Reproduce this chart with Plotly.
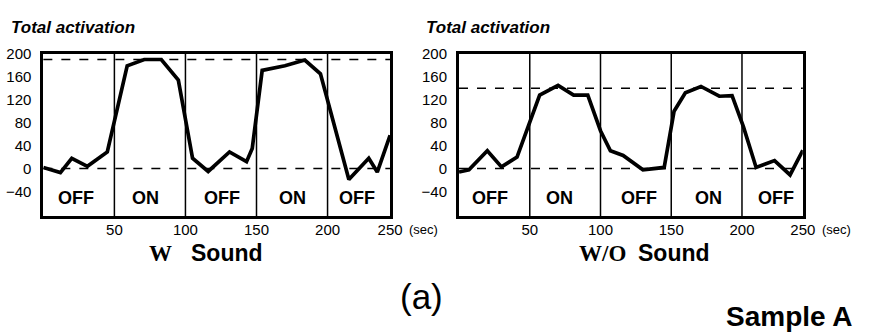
import plotly.graph_objects as go

# ---- data ----
t_w = [0, 12, 20, 31, 45, 59, 71, 83, 95, 105, 116, 131, 143, 147, 154, 170, 184, 195, 215, 229, 235, 244]
v_w = [2, -7, 18, 4, 29, 179, 190, 190, 154, 18, -5, 29, 12, 35, 171, 179, 189, 165, -19, 18, -6, 58]

t_wo = [0, 7, 20, 30, 41, 57, 70, 81, 91, 100, 107, 116, 130, 145, 152, 160, 171, 184, 193, 201, 210, 223, 234, 243]
v_wo = [-6, -2, 31, 3, 20, 128, 145, 128, 128, 66, 31, 23, -2, 2, 100, 132, 143, 126, 127, 73, 2, 14, -11, 32]

ref_w = 190
ref_wo = 140
block_edges = [50, 100, 150, 200]
block_labels = ["OFF", "ON", "OFF", "ON", "OFF"]
block_pos_w = [23, 72, 126, 175, 221]
block_pos_wo = [22, 71, 127, 176, 224]
x_tickvals_w = [50, 100, 150, 200, 244]
x_tickvals_wo = [50, 100, 150, 200, 243]
x_ticktext = ["50", "100", "150", "200", "250"]
y_tickvals = [-40, 0, 40, 80, 120, 160, 200]

W, H = 869, 334
SANS = "Liberation Sans, Arial, sans-serif"
SERIF = "Liberation Serif, Times New Roman, serif"

def px_x(a, b):
    return [a / W, b / W]

def px_y(top, bottom):
    return [(H - bottom) / H, (H - top) / H]

fig = go.Figure()
fig.add_trace(go.Scatter(x=t_w, y=v_w, mode="lines", line=dict(color="black", width=3.7),
                         xaxis="x", yaxis="y", showlegend=False, hoverinfo="skip"))
fig.add_trace(go.Scatter(x=t_wo, y=v_wo, mode="lines", line=dict(color="black", width=3.7),
                         xaxis="x2", yaxis="y2", showlegend=False, hoverinfo="skip"))

ax_common = dict(showgrid=False, zeroline=False, showline=True, mirror=True,
                 linecolor="black", linewidth=3, ticks="", ticklen=0,
                 tickfont=dict(family=SANS, size=15, color="black"))

fig.update_layout(
    width=W, height=H, margin=dict(l=0, r=0, t=0, b=0),
    plot_bgcolor="white", paper_bgcolor="white",
    xaxis=dict(domain=px_x(44, 396), range=[0, 244], tickvals=x_tickvals_w, ticktext=x_ticktext,
               anchor="y", ticklabelstandoff=-2, **ax_common),
    yaxis=dict(domain=px_y(46, 213), range=[-83, 200], tickvals=y_tickvals, anchor="x",
               ticklabelstandoff=6, **ax_common),
    xaxis2=dict(domain=px_x(466, 815), range=[0, 243], tickvals=x_tickvals_wo, ticktext=x_ticktext,
                anchor="y2", ticklabelstandoff=-2, **ax_common),
    yaxis2=dict(domain=px_y(46, 213), range=[-83, 200], tickvals=y_tickvals, anchor="x2",
                ticklabelstandoff=6, **ax_common),
)

shapes = []
anns = []
for xa, ya, ref, pos in [("x", "y", ref_w, block_pos_w), ("x2", "y2", ref_wo, block_pos_wo)]:
    for e in block_edges:
        shapes.append(dict(type="line", xref=xa, yref=ya + " domain", x0=e, x1=e, y0=0, y1=1,
                           line=dict(color="black", width=1.5)))
    for yv in [0, ref]:
        shapes.append(dict(type="line", xref=xa + " domain", yref=ya, x0=0, x1=1, y0=yv, y1=yv,
                           line=dict(color="black", width=1.5, dash="dash")))
    for p, lab in zip(pos, block_labels):
        anns.append(dict(xref=xa, yref=ya, x=p, y=-52, text="<b>" + lab + "</b>", showarrow=False,
                         font=dict(family=SANS, size=18, color="black")))

# (sec) labels
for xp in [413, 832]:
    anns.append(dict(xref="paper", yref="paper", x=xp / W, y=(H - 227) / H, xanchor="left",
                     yanchor="middle", text="(sec)", showarrow=False,
                     font=dict(family=SANS, size=13, color="black")))

# Total activation headers
for xp in [9, 430]:
    anns.append(dict(xref="paper", yref="paper", x=xp / W, y=(H - 19) / H, xanchor="left",
                     yanchor="middle", text="<b><i>Total activation</i></b>", showarrow=False,
                     font=dict(family=SANS, size=17, color="black")))

# Panel titles
title_y = (H - 251) / H
anns.append(dict(xref="paper", yref="paper", x=177 / W, y=title_y, xanchor="right", yanchor="middle",
                 text="<b>W</b>", showarrow=False, font=dict(family=SERIF, size=23, color="black")))
anns.append(dict(xref="paper", yref="paper", x=192 / W, y=title_y, xanchor="left", yanchor="middle",
                 text="<b>Sound</b>", showarrow=False, font=dict(family=SANS, size=23, color="black")))
anns.append(dict(xref="paper", yref="paper", x=638 / W, y=title_y, xanchor="right", yanchor="middle",
                 text="<b>W/O</b>", showarrow=False, font=dict(family=SERIF, size=23, color="black")))
anns.append(dict(xref="paper", yref="paper", x=646 / W, y=title_y, xanchor="left", yanchor="middle",
                 text="<b>Sound</b>", showarrow=False, font=dict(family=SANS, size=23, color="black")))

anns.append(dict(xref="paper", yref="paper", x=428 / W, y=(H - 295) / H, xanchor="center", yanchor="middle",
                 text="(a)", showarrow=False, font=dict(family=SANS, size=35, color="black")))
anns.append(dict(xref="paper", yref="paper", x=735 / W, y=(H - 316) / H, xanchor="left", yanchor="middle",
                 text="<b>Sample A</b>", showarrow=False, font=dict(family=SANS, size=28, color="black")))

fig.update_layout(shapes=shapes, annotations=anns)
fig.write_html("out.html", config={"displayModeBar": False},
               post_script="document.body.style.margin='0px';")
